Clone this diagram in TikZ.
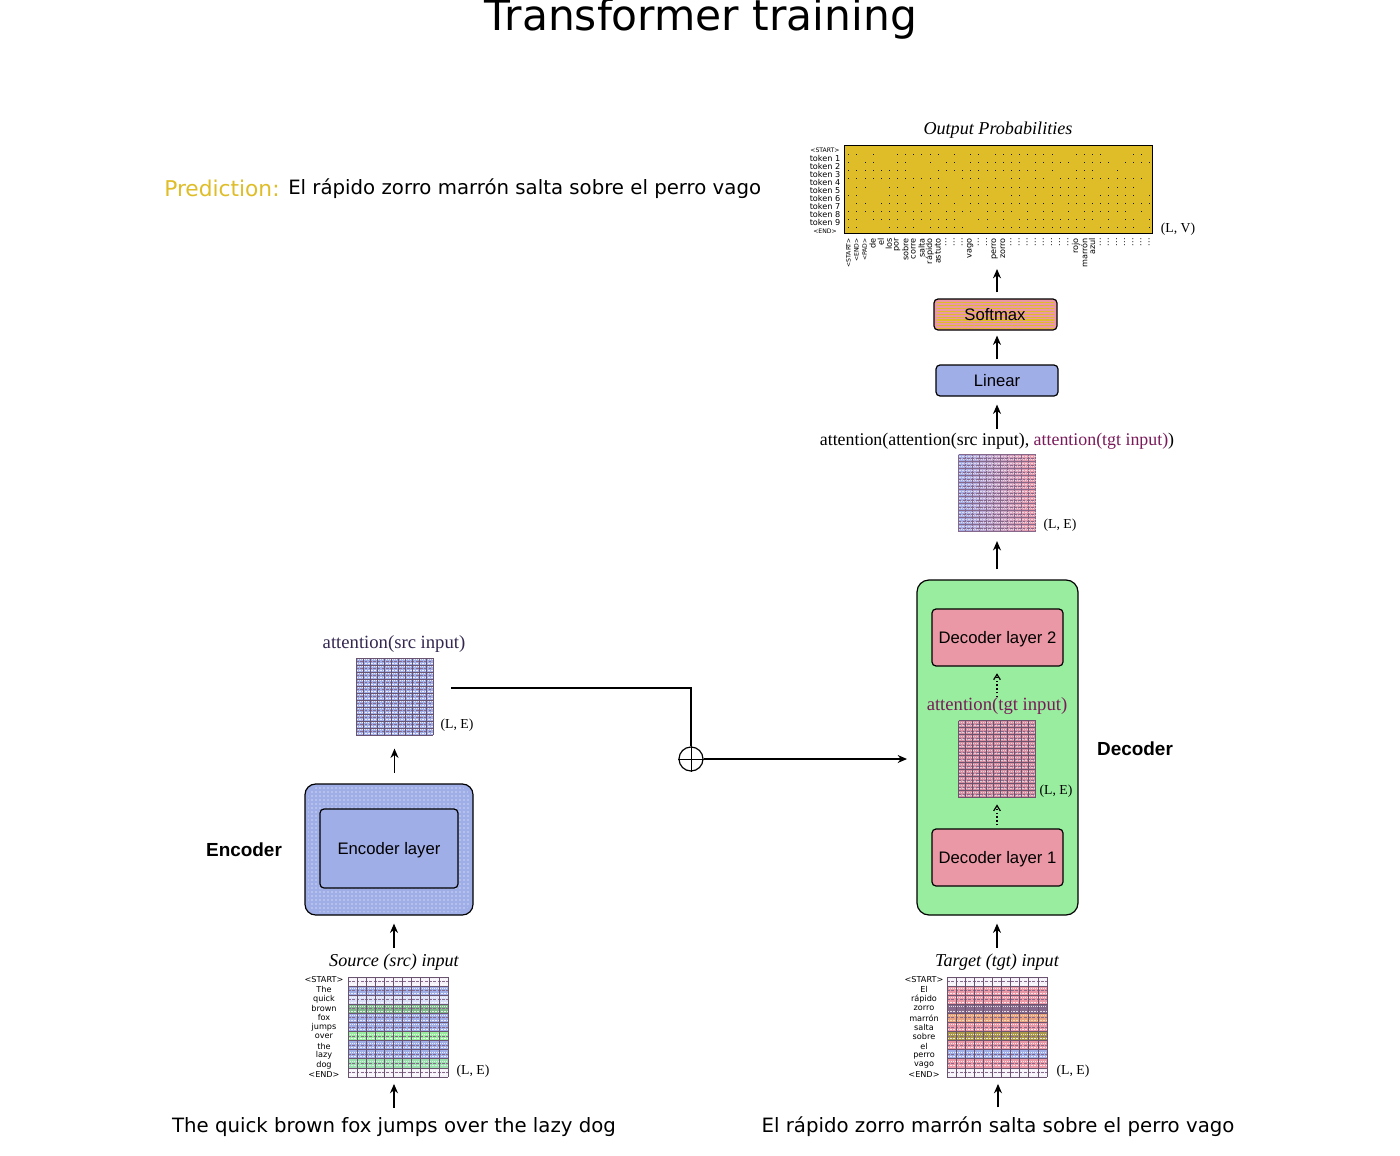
\documentclass[tikz,border=0pt]{standalone}
\usepackage{fontspec}
\usepackage{tikz}
\usetikzlibrary{arrows.meta}
\usetikzlibrary{patterns}
\usetikzlibrary{patterns.meta}
\setmainfont{DejaVu Sans}
\newfontfamily\serifface{Liberation Serif}
\newfontfamily\boxface{Liberation Sans}
\definecolor{mblue}{HTML}{A0AEE8}
\definecolor{mpink}{HTML}{EA98A5}
\definecolor{mgreen}{HTML}{98ED9E}
\definecolor{mgold}{HTML}{DFBD28}
\definecolor{mwhite}{HTML}{F4F2F8}
\definecolor{mgrey}{HTML}{85688A}
\definecolor{mdkgreen}{HTML}{7FB88A}
\definecolor{mdkgold}{HTML}{A89848}
\definecolor{mpurple}{HTML}{7A1A5A}
\definecolor{mnavy}{HTML}{33264F}
\newcommand{\tdots}{...}
\tikzset{
   arr/.style={-{Stealth[length=7pt,width=6pt]}, line width=0.9pt, black},
   dotarr/.style={-{Straight Barb[length=4pt,width=5pt]}, line width=0.9pt, dotted, black},
   box/.style={draw=black, line width=0.9pt, rounded corners=3pt, inner sep=0pt, text depth=0pt, font=\boxface\fontsize{12.5}{15}\selectfont},
   shell/.style={draw=black, line width=0.9pt, rounded corners=8pt, inner sep=0pt},
   sentence/.style={font=\fontsize{14.8}{17}\selectfont, inner sep=0pt},
   serifcap/.style={font=\serifface\fontsize{14}{16}\selectfont, inner sep=0pt},
   italcap/.style={font=\serifface\itshape\fontsize{13.6}{16}\selectfont, inner sep=0pt},
   dimname/.style={font=\serifface\fontsize{10.3}{12}\selectfont, inner sep=0pt},
   sidename/.style={font=\boxface\bfseries\fontsize{14.2}{17}\selectfont, inner sep=0pt},
   tick/.style={font=\fontsize{6.1}{7}\selectfont, inner sep=0pt},
   matframe/.style={inner sep=0pt, minimum size=#1*0.75pt}
}
\newcommand{\cellgrid}[5]{
   \node[matframe=#4] (#1) at (#2,#3) {};
   \pgfmathsetmacro{\cellstep}{#4/11}
   \pgfmathsetmacro{\gx}{#2-#4/2}
   \pgfmathsetmacro{\gy}{#3-#4/2}
   \foreach \rowcol [count=\r from 0] in {#5} {
      \fill[\rowcol] (\gx,\gy+\r*\cellstep) rectangle ++(#4,\cellstep);
      \draw[mgrey, line width=0.75pt, dash pattern=on 2.2pt off 1pt] (\gx,\gy+\r*\cellstep+0.5*\cellstep) -- ++(#4,0);
      \draw[white!80!\rowcol, line width=0.45pt, dash pattern=on 0.75pt off 0.75pt] (\gx,\gy+\r*\cellstep+0.25*\cellstep) -- ++(#4,0);
      \draw[white!80!\rowcol, line width=0.45pt, dash pattern=on 1.5pt off 0.75pt] (\gx,\gy+\r*\cellstep+0.75*\cellstep) -- ++(#4,0);
   }
   \foreach \k in {0,...,11} {
      \draw[mgrey!80!black, line width=0.5pt] (\gx+\k*\cellstep,\gy) -- ++(0,#4);
      \draw[mgrey!80!black, line width=0.5pt] (\gx,\gy+\k*\cellstep) -- ++(#4,0);
   }
}
\begin{document}
\begin{tikzpicture}[x=0.75pt,y=-0.75pt]
   \useasboundingbox (0,0) rectangle (1400,1156);

   \node[font=\fontsize{31.8}{36}\selectfont, inner sep=0pt] (title) at (701,19) {Transformer training};
   \node[sentence, anchor=base west, font=\fontsize{16.3}{19}\selectfont, text=mgold] (predname) at (164,196) {Prediction:};
   \node[sentence, anchor=base west] (predtext) at (288,195) {El rápido zorro marrón salta sobre el perro vago};

   \node[draw=black, line width=0.6pt, fill=mgold, inner sep=0pt, minimum width=231pt, minimum height=66pt] (probs) at (998,189) {};
   \pgfmathsetseed{11}
   \foreach \i in {0,...,37} {
      \foreach \j in {1,...,10} {
         \pgfmathparse{rnd>0.22 ? 1 : 0}
         \ifnum\pgfmathresult=1
            \fill[black!85!mblue] (848.3+\i*8.13,146+\j*8.1) rectangle ++(1,1);
         \fi
      }
   }
   \node[italcap] (probname) at (998,130.5) {Output Probabilities};
   \node[dimname] (probdim) at (1178,229.5) {(L, V)};
   \foreach \tokname [count=\r from 0] in {<START>,token 1,token 2,token 3,token 4,token 5,token 6,token 7,token 8,token 9,<END>} {
      \node[tick] (row\r) at (825,150+\r*8.1) {\ifnum\r=0 \fontsize{4.6}{6}\selectfont\fi\ifnum\r=10 \fontsize{4.6}{6}\selectfont\fi\tokname};
   }
   \foreach \word [count=\c from 0] in {<START>,<END>,<PAD>,de,el,los,por,sobre,corre,salta,rápido,astuto,\tdots,\tdots,\tdots,vago,\tdots,\tdots,perro,zorro,\tdots,\tdots,\tdots,\tdots,\tdots,\tdots,\tdots,\tdots,rojo,marrón,azul,\tdots,\tdots,\tdots,\tdots,\tdots,\tdots,\tdots} {
      \node[tick, rotate=90, anchor=east] (col\c) at (848.3+\c*8.13,238) {\ifnum\c<3 \fontsize{4.6}{6}\selectfont\fi\word};
   }

   \node[box, fill=mpink, minimum width=92.25pt, minimum height=23.25pt] (softmax) at (995.5,314.5) {};
   \fill[pattern={Lines[angle=0,distance=2.2pt,line width=0.8pt]}, pattern color=mgold] (937,301) rectangle (1054,328);
   \node[font=\boxface\fontsize{12.5}{15}\selectfont, inner sep=0pt] (softtext) at (995,315) {Softmax};
   \node[box, fill=mblue, minimum width=91.5pt, minimum height=23.25pt] (linear) at (997,380.5) {Linear};
   \node[serifcap, font=\serifface\fontsize{13.4}{16}\selectfont] (bothname) at (997,441) {attention(attention(src input), {\color{mpurple}attention(tgt input)})};
   \node[matframe=77, left color=mblue, right color=mpink] (outmat) at (997,493) {};
   \foreach \k in {0,...,11} {
      \draw[mgrey, line width=0.5pt] (958.5+\k*7,454.5) -- ++(0,77);
      \draw[mgrey, line width=0.5pt] (958.5,454.5+\k*7) -- ++(77,0);
   }
   \foreach \k in {0,...,10} {
      \draw[mgrey, line width=0.75pt, dash pattern=on 2.2pt off 1pt] (958.5,458+\k*7) -- ++(77,0);
      \draw[white, opacity=0.6, line width=0.45pt, dash pattern=on 1.5pt off 0.75pt] (958.5,456.3+\k*7) -- ++(77,0);
      \draw[white, opacity=0.6, line width=0.45pt, dash pattern=on 0.75pt off 0.75pt] (958.5,459.7+\k*7) -- ++(77,0);
   }
   \node[dimname] (outdim) at (1060,525) {(L, E)};

   \node[shell, fill=mgreen, rounded corners=9pt, minimum width=120.75pt, minimum height=251.25pt] (decoder) at (997.5,747.5) {};
   \node[box, fill=mpink, minimum width=98.25pt, minimum height=42.75pt] (declayertwo) at (997.5,637.5) {Decoder layer 2};
   \node[box, fill=mpink, minimum width=98.25pt, minimum height=42.75pt] (declayerone) at (997.5,857.5) {Decoder layer 1};
   \node[serifcap, text=mpurple] (tgtname) at (997,706) {attention(tgt input)};
   \cellgrid{tgtmat}{997}{759}{77}{mpink!80!mgrey,mpink!80!mgrey,mpink!80!mgrey,mpink!80!mgrey,mpink!80!mgrey,mpink!80!mgrey,mpink!80!mgrey,mpink!80!mgrey,mpink!80!mgrey,mpink!80!mgrey,mpink!80!mgrey}
   \node[dimname] (tgtdim) at (1056,791) {(L, E)};
   \node[sidename] (decname) at (1135,749) {Decoder};

   \cellgrid{targetmat}{997}{1027}{100}{mwhite,mpink,mpink,mgrey,mpink!70!mgold,mpink,mdkgold,mpink,mblue,mpink,mwhite}
   \node[italcap] (targetname) at (997,962) {Target (tgt) input};
   \node[dimname] (targetdim) at (1073,1071) {(L, E)};
   \foreach \tokname [count=\r from 0] in {<START>,El,rápido,zorro,marrón,salta,sobre,el,perro,vago,<END>} {
      \node[tick] (tr\r) at (924,980+\r*9.45) {\tokname};
   }
   \node[sentence] (targettext) at (998,1127) {El rápido zorro marrón salta sobre el perro vago};

   \cellgrid{attnmat}{394.5}{696.5}{77}{mblue,mblue,mblue,mblue,mblue,mblue,mblue,mblue,mblue,mblue,mblue}
   \node[serifcap, text=mnavy] (srcname) at (394,644) {attention(src input)};
   \node[dimname] (srcdim) at (457,725) {(L, E)};

   \node[shell, fill=mblue, minimum width=126pt, minimum height=98.25pt] (encoder) at (389,849.5) {};
   \fill[pattern=dots, pattern color=white, rounded corners=8pt] (308,787) rectangle (470,912);
   \node[box, fill=mblue, minimum width=103.5pt, minimum height=59.25pt] (enclayer) at (389,848.5) {Encoder layer};
   \node[sidename] (encname) at (244,850) {Encoder};

   \cellgrid{sourcemat}{398}{1027}{100}{mwhite,mblue,mblue!40!white,mdkgreen,mblue,mblue,mgreen,mblue,mblue,mgreen!80!mblue,mwhite}
   \node[italcap] (sourcename) at (394,962) {Source (src) input};
   \node[dimname] (sourcedim) at (473,1071) {(L, E)};
   \foreach \tokname [count=\r from 0] in {<START>,The,quick,brown,fox,jumps,over,the,lazy,dog,<END>} {
      \node[tick] (sr\r) at (324,980+\r*9.45) {\tokname};
   }
   \node[sentence] (sourcetext) at (394,1127) {The quick brown fox jumps over the lazy dog};

   \node[draw=black, line width=0.9pt, circle, inner sep=0pt, minimum size=18pt] (oplus) at (691,759) {};
   \draw[line width=0.7pt] (oplus.west) -- (oplus.east);
   \draw[line width=0.7pt] (oplus.north) -- (oplus.south);
   \coordinate (attnout) at (451,688);
   \coordinate (decin) at (907,759);
   \coordinate (probsin) at (997,269);
   \draw[line width=0.85pt] (attnout) -| (oplus.north);
   \draw[arr, line width=0.85pt] (oplus.east) -- (decin);

   \draw[arr, shorten <=7pt, shorten >=5pt] (sourcetext.north) -- (sourcetext.north |- sourcemat.south);
   \draw[arr, shorten <=7pt, shorten >=5pt] (targettext.north) -- (targettext.north |- targetmat.south);
   \draw[arr, shorten <=4.5pt, shorten >=6pt] (sourcename.north) -- (sourcename.north |- encoder.south);
   \draw[arr, shorten <=4.5pt, shorten >=6pt] (targetname.north) -- (targetname.north |- decoder.south);
   \draw[arr, shorten <=8pt, shorten >=10pt] (attnmat.south |- encoder.north) -- (attnmat.south);
   \draw[arr, shorten <=7.5pt, shorten >=7pt] (outmat.south |- decoder.north) -- (outmat.south);
   \draw[arr, shorten <=3pt, shorten >=6pt] (bothname.north) -- (bothname.north |- linear.south);
   \draw[arr, shorten <=3.75pt, shorten >=3.75pt] (linear.north) -- (linear.north |- softmax.south);
   \draw[arr, shorten <=4.5pt] (linear.north |- softmax.north) -- (probsin);
   \draw[dotarr, shorten <=2.25pt, shorten >=5pt] (tgtmat.south |- declayerone.north) -- (tgtmat.south);
   \draw[dotarr, shorten >=5pt] (tgtname.north) -- (tgtname.north |- declayertwo.south);
\end{tikzpicture}
\end{document}
